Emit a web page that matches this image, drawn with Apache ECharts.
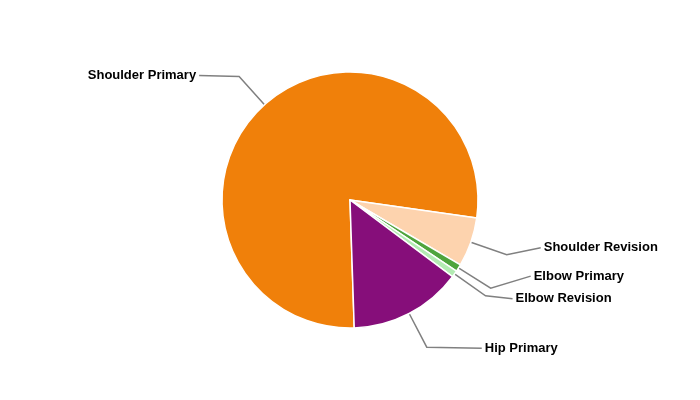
<!DOCTYPE html>
<html>
<head>
<meta charset="utf-8">
<script src="https://cdn.jsdelivr.net/npm/echarts@6/dist/echarts.min.js"></script>
<style>html,body{margin:0;padding:0;background:#fff}#c{width:700px;height:400px}</style>
</head>
<body>
<div id="c"></div>
<script>
var categories = ['Shoulder Primary', 'Shoulder Revision', 'Elbow Primary', 'Elbow Revision', 'Hip Primary'];
var values = [77.8, 6.2, 0.92, 0.86, 14.25];
var colors = ['#F0800A', '#FDD3AE', '#4FA43D', '#B3EBB3', '#860E7A'];

// label placement tweaks (connector second segment length and vertical offset)
var connectorLen = [40, 34, 40, 27, 55];
var connectorRise = [-1, -7, -12, 3, 1];

var chart = echarts.init(document.getElementById('c'), null, {renderer: 'canvas'});
chart.setOption({
  animation: false,
  backgroundColor: '#ffffff',
  series: [{
    type: 'pie',
    center: [350, 200],
    radius: [0, 128],
    startAngle: -88.1,
    clockwise: true,
    avoidLabelOverlap: false,
    itemStyle: {borderColor: '#ffffff', borderWidth: 1.5},
    label: {
      show: true,
      formatter: '{b}',
      color: '#000',
      fontFamily: 'Liberation Sans, Arial, sans-serif',
      fontWeight: 'bold',
      fontSize: 13,
      distanceToLabelLine: 3
    },
    labelLine: {
      show: true,
      length: 38,
      lineStyle: {color: '#808080', width: 1.5}
    },
    labelLayout: function (p) {
      var dy = connectorRise[p.dataIndex];
      var pts = p.labelLinePoints;
      if (!pts) return {dy: dy};
      var last = pts[pts.length - 1];
      var newPts = pts.slice(0, pts.length - 1).map(function (q) { return [q[0], q[1]]; });
      newPts.push([last[0], last[1] + dy]);
      return {dy: dy, labelLinePoints: newPts};
    },
    data: categories.map(function (n, i) {
      return {
        name: n, value: values[i],
        itemStyle: {color: colors[i]},
        labelLine: {length2: connectorLen[i]}
      };
    })
  }]
});
</script>
</body>
</html>
